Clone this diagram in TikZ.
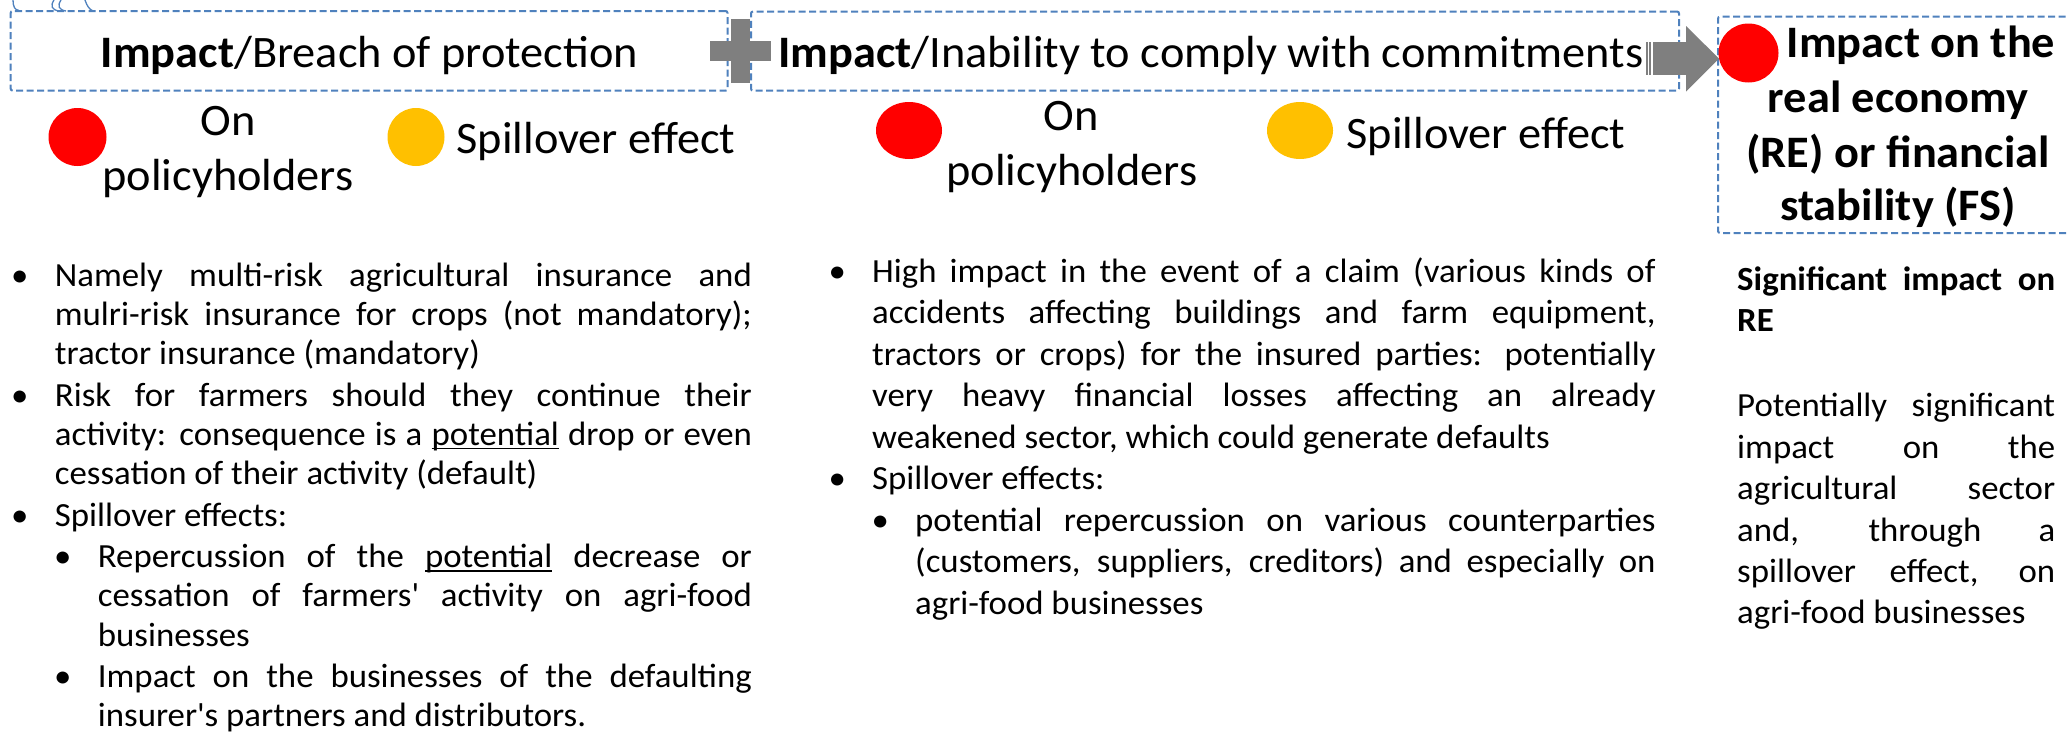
\documentclass[tikz,border=0pt]{standalone}
\usepackage{fontspec}
\usetikzlibrary{shapes.geometric}
\newfontfamily\bodyf{Carlito}[FakeStretch=1.03]
\definecolor{dblue}{RGB}{79,129,189}
\definecolor{agray}{RGB}{127,127,127}
\definecolor{cred}{RGB}{255,0,0}
\definecolor{corange}{RGB}{255,192,0}
\newcommand{\bodysetup}{\hyphenpenalty=10000\exhyphenpenalty=10000\tolerance=10000\hbadness=10000\parindent=0pt\parskip=0pt}
\newcommand{\BulA}{\par\noindent\strut\llap{\makebox[0pt]{\textbullet}\hspace{35pt}}}
\newcommand{\BulB}{\par\noindent\hangindent=43pt\hangafter=0\strut\llap{\makebox[0pt]{\textbullet}\hspace{35pt}}}
\newcommand{\myul}[1]{\setbox0\hbox{#1}\rlap{\rule[-4pt]{\wd0}{1.7pt}}\box0\relax}
\tikzset{
  dbox/.style={draw=dblue, line width=2pt, dash pattern=on 7pt off 3.5pt, rounded corners=2pt, inner sep=0pt},
  headtxt/.style={font=\bodyf\fontsize{45}{52}\selectfont, inner sep=0pt, anchor=base},
  lbl/.style={font=\bodyf\fontsize{45}{55}\selectfont, inner sep=0pt, anchor=base},
  boldlbl/.style={font=\bodyf\bfseries\fontsize{45}{55}\selectfont, inner sep=0pt, anchor=base},
  body/.style={inner sep=0pt, anchor=north west, align=justify},
  dot/.style={ellipse, fill=#1, draw=none, inner sep=0pt},
  deco/.style={draw=dblue, line width=1.3pt},
}
\begin{document}
\begin{tikzpicture}[x=1pt,y=-1pt]
\useasboundingbox (0,0) rectangle (2067,744);
\fill[white] (0,0) rectangle (2067,744);

% decorative arcs
\draw[deco] (13,0) .. controls (13,7) and (15,10) .. (19,10.5);
\draw[deco] (54,0) .. controls (50,6) and (52,10) .. (59,11);
\draw[deco] (61,0) .. controls (57,6) and (59,10) .. (66,11);
\draw[deco] (85,0) .. controls (87,6) and (89,9) .. (93,11);

% boxes
\node[dbox, minimum width=716.8pt, minimum height=79.7pt] (b1) at (369.1,50.85) {};
\node[dbox, minimum width=928pt, minimum height=79.2pt] (b2) at (1215,51.1) {};
\node[dbox, minimum width=360pt, minimum height=216.3pt] (b3) at (1898,124.85) {};

% headings
\node[headtxt] (h1) at (369.5,67) {\textbf{Impact}/Breach of protection};
\node[headtxt, anchor=base west] (h2) at (778,67) {\textbf{Impact}/Inability to comply with commitments};

\node[boldlbl] (h3a) at (1921,57) {Impact on the};
\node[boldlbl] (h3b) at (1898,112) {real economy};
\node[boldlbl] (h3c) at (1898,167) {(RE) or financial};
\node[boldlbl] (h3d) at (1898,220) {stability (FS)};

% plus sign
\fill[agray] (710,41.3) rectangle (770.7,60.7);
\fill[agray] (731,19.3) rectangle (750,82.7);

% striped arrow from b2 to b3
\coordinate (atip) at (1719,58.6);
\fill[agray] (1645.5,41.7) rectangle (1647.5,75);
\fill[agray] (1649,41.7) rectangle (1651,75);
\fill[agray] (1653,41.7) rectangle (1686.5,75);
\fill[agray] (1686,26) -- (atip) -- (1686,91.7) -- cycle;

% circles and labels row 1
\node[dot=cred, minimum width=58pt, minimum height=58pt] (r1) at (77.5,137) {};
\node[lbl] (on1) at (228,135) {On};
\node[lbl] (ph1) at (228,190) {policyholders};
\node[dot=corange, minimum width=57pt, minimum height=58pt] (o1) at (416,137) {};
\node[lbl, anchor=base west] (sp1) at (456.5,153.5) {Spillover effect};

% row 2
\node[dot=cred, minimum width=66pt, minimum height=57pt] (r2) at (909,130.5) {};
\node[lbl] (on2) at (1071,130) {On};
\node[lbl] (ph2) at (1072,185) {policyholders};
\node[dot=corange, minimum width=66pt, minimum height=57pt] (o2) at (1300,130.5) {};
\node[lbl, anchor=base west] (sp2) at (1346.5,148) {Spillover effect};

% red dot in box 3
\node[dot=cred, minimum width=60pt, minimum height=59pt] (r3) at (1748.5,53) {};

% column 1 body
\node[body, text width=697pt, font=\bodyf\fontsize{33.8}{39.2}\selectfont] (c1) at (54.7,246.9) {\bodysetup
\BulA Namely multi-risk agricultural insurance and\linebreak mulri-risk insurance for crops (not mandatory);\linebreak tractor insurance (mandatory)\parskip=2.3pt
\BulA Risk for farmers should they continue their\linebreak activity: consequence is a \myul{potential} drop or even\linebreak cessation of their activity (default)
\BulA Spillover effects:
\BulB Repercussion of the \myul{potential} decrease or\linebreak cessation of farmers\textquotesingle{} activity on agri-food\linebreak businesses
\BulB Impact on the businesses of the defaulting\linebreak insurer\textquotesingle s partners and distributors.\par};

% column 2 body
\node[body, text width=783.4pt, font=\bodyf\fontsize{33.8}{41.5}\selectfont] (c2) at (872,240.45) {\bodysetup
\BulA High impact in the event of a claim (various kinds of\linebreak accidents affecting buildings and farm equipment,\linebreak tractors or crops) for the insured parties: potentially\linebreak very heavy financial losses affecting an already\linebreak weakened sector, which could generate defaults
\BulA Spillover effects:
\BulB potential repercussion on various counterparties\linebreak (customers, suppliers, creditors) and especially on\linebreak agri-food businesses\par};

% column 3 body
\node[body, text width=318pt, font=\bodyf\fontsize{33.8}{41.4}\selectfont] (c3) at (1737,261.0) {\bodysetup
\noindent\strut\textbf{Significant impact on\linebreak RE}\par
\strut\par\vspace{2.5pt}
\noindent\strut Potentially significant\linebreak impact on the\linebreak agricultural sector\linebreak and, through a\linebreak spillover effect, on\linebreak agri-food businesses\par};
\end{tikzpicture}
\end{document}
